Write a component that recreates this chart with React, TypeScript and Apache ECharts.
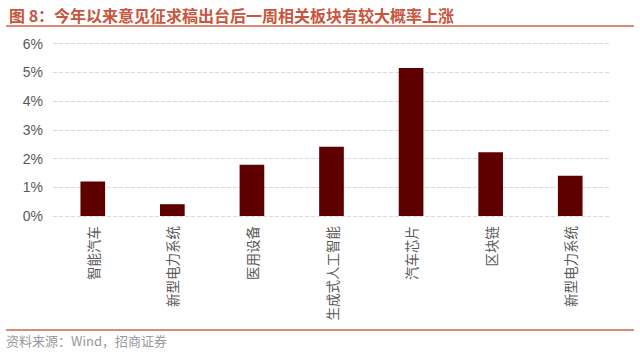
import React, { useEffect, useRef } from "react";
import * as echarts from "echarts";

const categories = ["智能汽车", "新型电力系统", "医用设备", "生成式人工智能", "汽车芯片", "区块链", "新型电力系统"];
const values = [1.2, 0.41, 1.78, 2.41, 5.15, 2.22, 1.4];
const titleText = "图 8：今年以来意见征求稿出台后一周相关板块有较大概率上涨";
const sourceText = "资料来源：Wind，招商证券";

export default function App() {
  const ref = useRef<HTMLDivElement>(null);
  useEffect(() => {
    if (!ref.current) return;
    const chart = echarts.init(ref.current, null, { renderer: "svg" });
    chart.setOption({
      animation: false,
      backgroundColor: "#ffffff",
      title: {
        text: titleText,
        left: 4,
        top: 2,
        textStyle: {
          color: "#c8553d",
          fontSize: 16,
          fontWeight: "bold",
          fontFamily: "Noto Sans CJK SC",
        },
      },
      graphic: [
        {
          type: "line",
          shape: { x1: 6, y1: 26, x2: 634, y2: 26 },
          style: { stroke: "#dc8a74", lineWidth: 2 },
        },
        {
          type: "line",
          shape: { x1: 6, y1: 330, x2: 634, y2: 330 },
          style: { stroke: "#dc8a74", lineWidth: 2 },
        },
        {
          type: "text",
          x: 6,
          y: 334,
          style: {
            text: sourceText,
            fill: "#999999",
            fontSize: 13,
            fontFamily: "Noto Sans CJK SC",
          },
        },
      ],
      grid: { left: 53, right: 30, top: 43.5, bottom: 140, containLabel: false },
      xAxis: {
        type: "category",
        data: categories,
        axisLine: { show: false },
        axisTick: { show: false },
        axisLabel: {
          interval: 0,
          rotate: 90,
          margin: 10,
          fontSize: 13.5,
          color: "#595959",
          fontFamily: "Noto Sans CJK SC",
        },
      },
      yAxis: {
        type: "value",
        min: 0,
        max: 6,
        interval: 1,
        axisLine: { show: false },
        axisTick: { show: false },
        axisLabel: {
          formatter: "{value}%",
          fontSize: 14,
          margin: 10,
          color: "#595959",
          fontFamily: "Liberation Sans",
        },
        splitLine: { lineStyle: { color: "#d9d9d9", type: "dashed", width: 1 } },
      },
      series: [
        {
          type: "bar",
          data: values,
          barWidth: "31%",
          itemStyle: { color: "#5e0000" },
        },
      ],
    });
    return () => chart.dispose();
  }, []);
  return (
    <div
      ref={ref}
      style={{ position: "fixed", left: 0, top: 0, width: 640, height: 356 }}
    />
  );
}
